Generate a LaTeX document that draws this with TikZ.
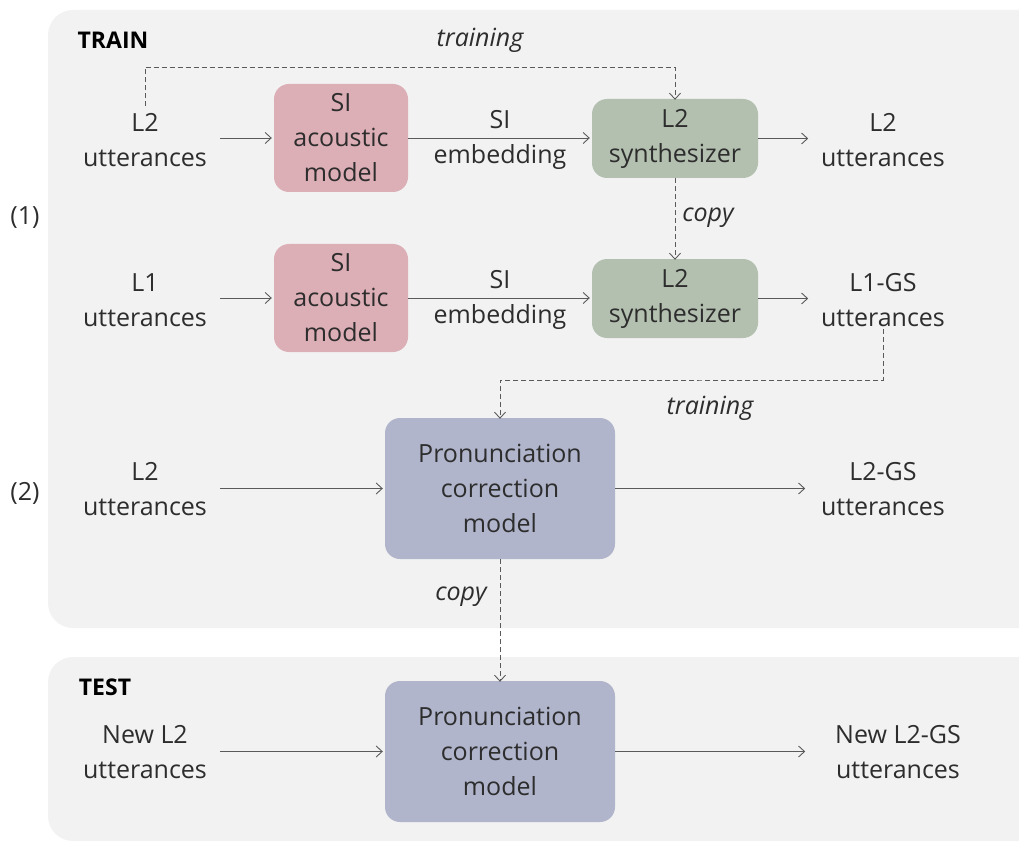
\documentclass[tikz,border=0pt]{standalone}
\usepackage{fontspec}
\setmainfont{Open Sans}
\usetikzlibrary{arrows.meta}
\definecolor{panelbg}{RGB}{242,242,242}
\definecolor{pinkbox}{RGB}{220,174,182}
\definecolor{greenbox}{RGB}{179,192,176}
\definecolor{bluebox}{RGB}{176,181,204}
\definecolor{txt}{RGB}{45,45,45}
\definecolor{linec}{RGB}{90,90,90}
\tikzset{
  panel/.style={fill=panelbg, draw=none, rounded corners=25pt},
  lbl/.style={align=center, text=txt, inner sep=2pt},
  blk/.style={align=center, text=txt, rounded corners=15pt, draw=none, inner sep=0pt},
  pinkblk/.style={blk, fill=pinkbox, minimum width=134pt, minimum height=108pt},
  greenblk/.style={blk, fill=greenbox, minimum width=166pt, minimum height=79pt},
  blueblk/.style={blk, fill=bluebox, minimum width=230pt, minimum height=141pt},
  arr/.style={draw=linec, line width=0.9pt, -{Straight Barb[length=6pt,width=11pt]}},
  darr/.style={arr, dash pattern=on 5pt off 3pt},
  ital/.style={font=\fontsize{25}{30}\selectfont\itshape, text=txt, inner sep=0pt},
  head/.style={font=\fontsize{23}{28}\selectfont\bfseries, text=black, inner sep=0pt}
}
\begin{document}
\begin{tikzpicture}[x=1pt, y=-1pt, font=\fontsize{25}{35}\selectfont]
\useasboundingbox (0,0) rectangle (1019,842);
\clip (0,0) rectangle (1019,842);
% panels
\fill[panel] (48,10) rectangle (1045,628);
\fill[panel] (48,657) rectangle (1045,841);
\node[head] (train) at (113,40) {TRAIN};
\node[head] (test) at (105,687) {TEST};
\node[lbl] (n1) at (25,218) {(1)};
\node[lbl] (n2) at (25,493) {(2)};
% row 1
\node[lbl] (u1) at (145,140) {L2\\utterances};
\node[pinkblk] (si1) at (341,138) {SI\\acoustic\\model};
\node[lbl] (e1) at (500,140) {SI\\embedding};
\node[greenblk] (syn1) at (675,138.5) {L2\\synthesizer};
\node[lbl] (o1) at (883,140) {L2\\utterances};
% row 2
\node[lbl] (u2) at (145,300) {L1\\utterances};
\node[pinkblk] (si2) at (341,298) {SI\\acoustic\\model};
\node[lbl] (e2) at (500,300) {SI\\embedding};
\node[greenblk] (syn2) at (675,298.5) {L2\\synthesizer};
\node[lbl] (o2) at (883,300) {L1-GS\\utterances};
% row 3
\node[lbl] (u3) at (145,489) {L2\\utterances};
\node[blueblk] (pcm1) at (500,488.5) {Pronunciation\\correction\\model};
\node[lbl] (o3) at (883,489) {L2-GS\\utterances};
% test row
\node[lbl] (u4) at (145,752) {New L2\\utterances};
\node[blueblk] (pcm2) at (500,751.5) {Pronunciation\\correction\\model};
\node[lbl] (o4) at (898,752) {New L2-GS\\utterances};
% coordinates for dashed routes
\coordinate (tr1) at (400,67);
\coordinate (tr2) at (700,380);
% solid arrows
\draw[arr] ([xshift=11pt]u1.east |- si1.west) -- ([xshift=-2pt]si1.west);
\draw[arr] (si1.east) -- ([xshift=-2pt]si1.east -| syn1.west);
\draw[arr] (syn1.east) -- ([xshift=50pt]syn1.east);
\draw[arr] ([xshift=11pt]u2.east |- si2.west) -- ([xshift=-2pt]si2.west);
\draw[arr] (si2.east) -- ([xshift=-2pt]si2.east -| syn2.west);
\draw[arr] (syn2.east) -- ([xshift=50pt]syn2.east);
\draw[arr] ([xshift=11pt]u3.east |- pcm1.west) -- ([xshift=-2pt]pcm1.west);
\draw[arr] (pcm1.east) -- ([xshift=190pt]pcm1.east);
\draw[arr] ([xshift=11pt]u4.east |- pcm2.west) -- ([xshift=-2pt]pcm2.west);
\draw[arr] (pcm2.east) -- ([xshift=190pt]pcm2.east);
% dashed
\draw[darr] ([yshift=5pt]u1.north) |- (tr1) -| ([yshift=-1pt]syn1.north);
\node[ital] (lt1) at (480,40) {training};
\draw[darr] (syn1.south) -- ([yshift=-1pt]syn2.north);
\node[ital] (lc1) at (708,218) {copy};
\draw[darr] (o2.south) |- (tr2) -| ([yshift=-1pt]pcm1.north);
\node[ital] (lt2) at (710,408) {training};
\draw[darr] (pcm1.south) -- ([yshift=-1pt]pcm2.north);
\node[ital] (lc2) at (461,597) {copy};
\end{tikzpicture}
\end{document}
